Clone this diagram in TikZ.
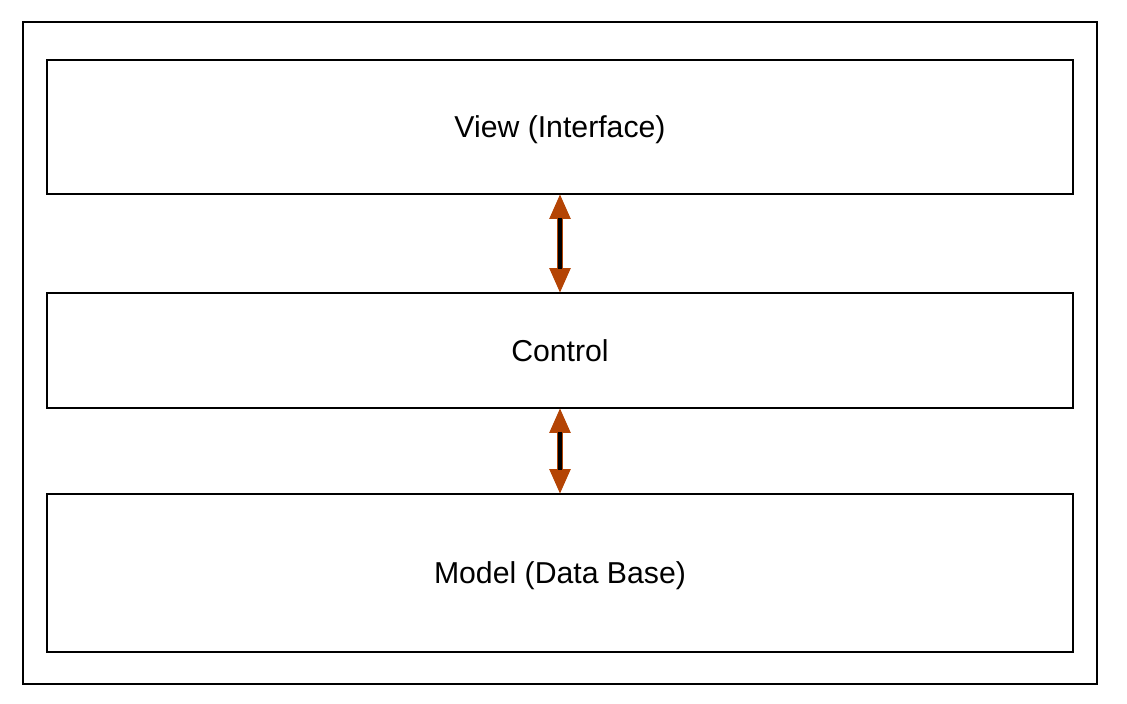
\documentclass[tikz,border=0pt]{standalone}
\usepackage{fontspec}
\setmainfont{Liberation Sans}
\usetikzlibrary{arrows.meta}
\definecolor{brn}{RGB}{180,68,4}
\newcommand{\drawframe}{\draw[line width=1.1pt]}
\tikzset{
  layer/.style={draw, line width=1.1pt, inner sep=0pt, outer sep=0pt, text depth=0pt,
    minimum width=25.65cm, font=\fontsize{21.5}{26}\selectfont},
  link/.style={draw=brn, line width=3.6pt,
    {Triangle[length=0.62cm,width=0.5cm,fill=brn]}-{Triangle[length=0.62cm,width=0.5cm,fill=brn]}},
  linkcore/.style={draw=black, line width=2.2pt, shorten <=0.6cm, shorten >=0.6cm}
}
\begin{document}
\begin{tikzpicture}
\useasboundingbox (0,0) rectangle (28.175,-17.575);
\drawframe (0.575,-0.55) rectangle (27.425,-17.1);
% the three layers
\node[layer, minimum height=3.35cm] (view) at (14,-3.175) {View (Interface)};
\node[layer, minimum height=2.875cm] (control) at (14,-8.7625) {Control};
\node[layer, minimum height=3.95cm] (model) at (14,-14.325) {Model (Data Base)};
% links between layers
\draw[link] (view.south) -- (control.north);
\draw[linkcore] (view.south) -- (control.north);
\draw[link] (control.south) -- (model.north);
\draw[linkcore] (control.south) -- (model.north);
\end{tikzpicture}
\end{document}
